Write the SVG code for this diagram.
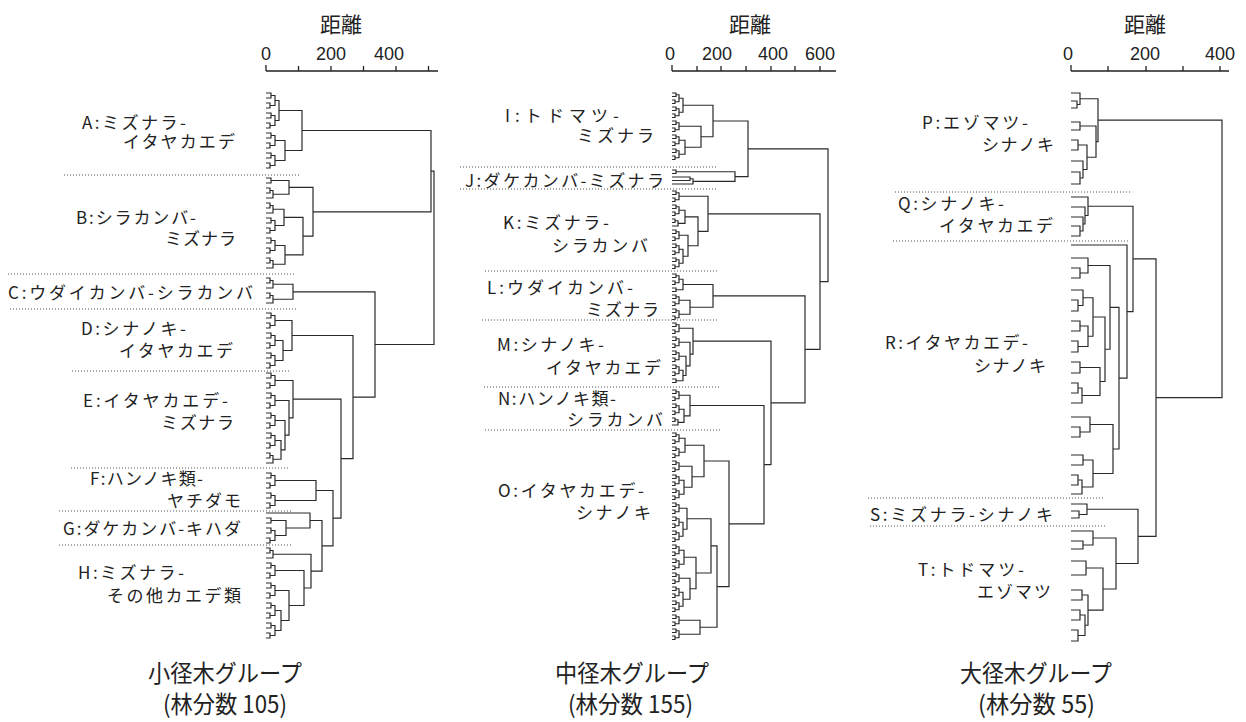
<svg xmlns="http://www.w3.org/2000/svg" width="1246" height="722" viewBox="0 0 1246 722">
<style>
.bg{fill:#fff}
.ln{fill:none;stroke:#2a2a2a;stroke-width:1.2}
.dot{fill:none;stroke:#555;stroke-width:1;stroke-dasharray:1 2}
.ax{fill:none;stroke:#222;stroke-width:1.3}
.lbl{font-family:"Noto Sans CJK JP","Noto Sans CJK SC",sans-serif;font-size:17px;fill:#222}
.end{text-anchor:end}
.num{font-family:"Liberation Sans",sans-serif;font-size:18px;fill:#222;text-anchor:middle}
.hd{font-family:"Noto Sans CJK JP","Noto Sans CJK SC",sans-serif;font-size:21px;fill:#222;text-anchor:middle}
.ttl{font-family:"Noto Sans CJK JP","Noto Sans CJK SC",sans-serif;font-size:24px;fill:#222}
</style>
<defs>
<path id="a4" d="M0,0H5V5H0M0,10H4V15H0M5,2.5H9V12.5H4"/>
<path id="a3" d="M0,0H4V5H0M4,2.5H7V10H0"/>
<path id="a2" d="M0,0H5V5H0"/>
<path id="b4" d="M0,0H4V3.5H0M0,7H3V10.5H0M4,1.75H7V8.75H3"/>
<path id="b3" d="M0,0H3V3.5H0M3,1.75H6V7H0"/>
<path id="b2" d="M0,0H4V3.5H0"/>
</defs>
<rect class="bg" x="0" y="0" width="1246" height="722"/>

<g id="axes">
<text class="hd" x="341" y="32">距離</text>
<text class="num" x="266" y="60">0</text><text class="num" x="331" y="60">200</text><text class="num" x="389" y="60">400</text>
<path class="ax" d="M266,71H438M266,65V71M298.5,66V71M331,66V71M363.5,66V71M396,66V71M428.5,66V71"/>
<text class="hd" x="750" y="32">距離</text>
<text class="num" x="670" y="60">0</text><text class="num" x="717" y="60">200</text><text class="num" x="773" y="60">400</text><text class="num" x="820" y="60">600</text>
<path class="ax" d="M672,71H836M672,65V71M697,66V71M721,66V71M746,66V71M771,66V71M795,66V71M820,66V71"/>
<text class="hd" x="1145" y="32">距離</text>
<text class="num" x="1068" y="60">0</text><text class="num" x="1145" y="60">200</text><text class="num" x="1220" y="60">400</text>
<path class="ax" d="M1071,71H1229M1071,65V71M1108,66V71M1146,66V71M1183,66V71M1220,66V71"/>
</g>

<g id="connectors" class="ln">
<use href="#a4" x="266" y="93"/><use href="#a4" x="266" y="113"/><use href="#a4" x="266" y="133"/><use href="#a4" x="266" y="153"/>
<use href="#a2" x="266" y="178"/><use href="#a3" x="266" y="188"/><use href="#a3" x="266" y="203"/><use href="#a4" x="266" y="218"/><use href="#a4" x="266" y="238"/><use href="#a3" x="266" y="258"/>
<use href="#a3" x="266" y="278"/><use href="#a3" x="266" y="293"/>
<use href="#a4" x="266" y="313"/><use href="#a4" x="266" y="333"/><use href="#a4" x="266" y="353"/>
<use href="#a4" x="266" y="373"/><use href="#a4" x="266" y="393"/><use href="#a4" x="266" y="413"/><use href="#a4" x="266" y="433"/><use href="#a3" x="266" y="453"/>
<use href="#a4" x="266" y="473"/><use href="#a4" x="266" y="493"/>
<use href="#a2" x="266" y="518"/><use href="#a4" x="266" y="528"/>
<use href="#a3" x="266" y="548"/><use href="#a4" x="266" y="563"/><use href="#a4" x="266" y="583"/><use href="#a4" x="266" y="603"/><use href="#a4" x="266" y="623"/>
<path d="M275,100.5H279V120.5H275M275,140.5H285V160.5H275M279,110.5H302V150.5H285
M271,180.5H289V194.25H273M273,209.25H284V225.5H275M275,245.5H285V264.25H273M284,217.4H303V254.9H285M289,187.4H313V236.1H303
M302,130.5H431V211.8H313
M273,284.25H293V299.25H273
M275,340.5H283V360.5H275M275,320.5H292V350.5H283
M275,440.5H281V459.25H273M275,420.5H285V449.9H281M275,400.5H289V435.2H285M275,380.5H293V417.85H289
M275,480.5H316V500.5H275
M271,520.5H286V535.5H275M266,513H310V528H286
M275,610.5H281V630.5H275M275,590.5H289V620.5H281M275,570.5H304V605.5H289M273,554.25H311V588H304
M310,520.5H322V571.1H311M316,490.5H333V545.8H322M293,399.2H341V518.2H333M292,335.5H353V458.7H341M293,291.8H375V397.1H353
M431,171.2H434V344.5H375"/>

<use href="#b4" x="672" y="93"/><use href="#b4" x="672" y="107"/><use href="#b4" x="672" y="121"/><use href="#b4" x="672" y="135"/><use href="#b4" x="672" y="149"/>
<use href="#b2" x="672" y="170"/>
<use href="#b4" x="672" y="191"/><use href="#b4" x="672" y="205"/><use href="#b3" x="672" y="219"/><use href="#b4" x="672" y="230"/><use href="#b4" x="672" y="244"/><use href="#b4" x="672" y="258"/>
<use href="#b4" x="672" y="274"/><use href="#b2" x="672" y="288"/><use href="#b4" x="672" y="295"/><use href="#b4" x="672" y="309"/>
<use href="#b4" x="672" y="323"/><use href="#b4" x="672" y="337"/><use href="#b4" x="672" y="351"/><use href="#b4" x="672" y="365"/><use href="#b2" x="672" y="379"/>
<use href="#b4" x="672" y="390"/><use href="#b4" x="672" y="404"/><use href="#b3" x="672" y="418"/>
<use href="#b4" x="672" y="433"/><use href="#b4" x="672" y="447"/><use href="#b4" x="672" y="461"/><use href="#b4" x="672" y="475"/><use href="#b4" x="672" y="489"/>
<use href="#b4" x="672" y="503"/><use href="#b4" x="672" y="517"/><use href="#b4" x="672" y="531"/><use href="#b4" x="672" y="545"/><use href="#b4" x="672" y="559"/>
<use href="#b4" x="672" y="573"/><use href="#b4" x="672" y="587"/><use href="#b4" x="672" y="601"/><use href="#b4" x="672" y="615"/><use href="#b4" x="672" y="629"/>
<path d="M679,98.25H683V112.25H679M679,140.25H685V154.25H679M679,126.25H701V147.25H685M683,105.25H713V136.75H701
M672,177H690V180.5H672M690,178.75H693V184H672M676,171.75H735V181.4H693
M713,121H748V176.6H735
M679,210.25H685V223.4H678M679,249.25H683V263.25H679M679,235.25H688V256.25H683M685,216.8H698V245.75H688M679,196.25H708V231.3H698
M679,279.25H683V289.75H676M679,300.25H690V314.25H679M683,284.5H713V307.25H690
M679,370.25H683V380.75H676M679,356.25H686V375.5H683M679,342.25H690V365.9H686M679,328.25H693V354.1H690
M679,409.25H684V422.4H678M679,395.25H690V415.8H684
M679,438.25H685V452.25H679M679,480.25H684V494.25H679M679,466.25H692V487.25H684M685,445.25H704V476.75H692
M679,522.25H683V536.25H679M679,508.25H687V529.25H683
M679,550.25H684V564.25H679M679,592.25H683V606.25H679M679,578.25H690V599.25H683M684,557.25H696V588.75H690M687,518.75H711V573H696
M679,620.25H700V634.25H679M711,545.9H717V627.25H700M704,461H729V586.6H717
M690,405.5H764V523.8H729M693,341.2H771V464.65H764M713,295.9H805V402.9H771M708,213.8H820V349.4H805M748,148.8H828V281.6H820"/>

<path d="M1071,101H1077V108H1071M1071,93H1080V104.5H1077M1071,122H1080V130H1071M1071,140H1078V150H1071M1071,172H1080V184H1071M1071,161H1083V178H1080
M1078,145H1087V169.5H1083M1080,126H1096V157.25H1087M1080,98.75H1098V141.6H1096
M1071,226H1080V236H1071M1071,217H1083V231H1080M1071,207H1085V224H1083M1071,197H1088V215.5H1085
M1071,268H1080V278H1071M1071,258H1088V273H1080
M1071,300H1078V311H1071M1071,290H1083V305.5H1078M1071,321H1080V331H1071M1071,341H1078V352H1071M1080,326H1088V346.5H1078M1083,297.75H1093V336.25H1088
M1071,362H1080V373H1071M1071,383H1078V393H1071M1078,388H1082V403H1071M1080,367.5H1100V395.5H1082M1093,317H1105V381.5H1100M1088,265.5H1110V349.25H1105
M1071,427H1080V437H1071M1071,417H1090V432H1080M1071,455H1083V465H1071M1071,475H1078V485H1071M1078,480H1082V494H1071M1083,460H1093V487H1082M1090,424.5H1113V473.5H1093
M1110,307.4H1119V449H1113M1071,245H1127V378.2H1119M1088,206.25H1133V311.6H1127
M1071,511H1079V518H1071M1071,504H1087V514.5H1079
M1071,541H1083V549H1071M1071,531H1093V545H1083M1071,561H1086V575H1071M1071,590H1082V600H1071M1071,610H1080V620H1071M1071,630H1078V641H1071
M1080,615H1085V635.5H1078M1082,595H1088V625.25H1085M1086,568H1103V610.1H1088M1093,538H1116V589H1103
M1087,509.25H1138V563.5H1116M1133,258.9H1156V536.4H1138M1098,120.2H1222V397.6H1156"/>
</g>

<g id="separators" class="dot">
<path d="M64,175H300M8,274H296M10,309H297M72,371H291M71,468H290M59,511H293M59,545H293"/>
<path d="M460,167H717M460,189H717M485,271H719M482,320H717M484,387H719M485,430H720"/>
<path d="M895,192H1130M893,241H1128M868,498H1103M870,526H1105"/>
</g>

<g id="node-A"><text class="lbl"><tspan x="82" y="128.5" textLength="104">A:ミズナラ-</tspan><tspan class="end" x="235" y="147.5" textLength="112">イタヤカエデ</tspan></text></g>
<g id="node-B"><text class="lbl"><tspan x="76" y="223.5" textLength="120">B:シラカンバ-</tspan><tspan class="end" x="236" y="244.5" textLength="71">ミズナラ</tspan></text></g>
<g id="node-C"><text class="lbl" x="8" y="298.5" textLength="245">C:ウダイカンバ-シラカンバ</text></g>
<g id="node-D"><text class="lbl"><tspan x="81" y="335" textLength="105">D:シナノキ-</tspan><tspan class="end" x="233" y="356.5" textLength="114">イタヤカエデ</tspan></text></g>
<g id="node-E"><text class="lbl"><tspan x="83" y="406.5" textLength="145">E:イタヤカエデ-</tspan><tspan class="end" x="234" y="428.5" textLength="73">ミズナラ</tspan></text></g>
<g id="node-F"><text class="lbl"><tspan x="90" y="484.5" textLength="113">F:ハンノキ類-</tspan><tspan class="end" x="241" y="506.5" textLength="74">ヤチダモ</tspan></text></g>
<g id="node-G"><text class="lbl" x="63" y="534.5" textLength="178">G:ダケカンバ-キハダ</text></g>
<g id="node-H"><text class="lbl"><tspan x="78" y="578.5" textLength="106">H:ミズナラ-</tspan><tspan class="end" x="241" y="601.5" textLength="134">その他カエデ類</tspan></text></g>

<g id="node-I"><text class="lbl"><tspan x="505" y="121.5" textLength="114">I:トドマツ-</tspan><tspan class="end" x="654" y="141.5" textLength="77">ミズナラ</tspan></text></g>
<g id="node-J"><text class="lbl" x="465" y="186.5" textLength="199">J:ダケカンバ-ミズナラ</text></g>
<g id="node-K"><text class="lbl"><tspan x="503" y="228.5" textLength="106">K:ミズナラ-</tspan><tspan class="end" x="648" y="251.5" textLength="96">シラカンバ</tspan></text></g>
<g id="node-L"><text class="lbl"><tspan x="487" y="293.5" textLength="146">L:ウダイカンバ-</tspan><tspan class="end" x="659" y="315.5" textLength="73">ミズナラ</tspan></text></g>
<g id="node-M"><text class="lbl"><tspan x="497" y="350.5" textLength="107">M:シナノキ-</tspan><tspan class="end" x="661" y="373.5" textLength="115">イタヤカエデ</tspan></text></g>
<g id="node-N"><text class="lbl"><tspan x="498" y="404.5" textLength="118">N:ハンノキ類-</tspan><tspan class="end" x="663" y="425.5" textLength="96">シラカンバ</tspan></text></g>
<g id="node-O"><text class="lbl"><tspan x="498" y="496.5" textLength="146">O:イタヤカエデ-</tspan><tspan class="end" x="651" y="518.5" textLength="75">シナノキ</tspan></text></g>

<g id="node-P"><text class="lbl"><tspan x="922" y="128.5" textLength="106">P:エゾマツ-</tspan><tspan class="end" x="1054" y="150.5" textLength="72">シナノキ</tspan></text></g>
<g id="node-Q"><text class="lbl"><tspan x="898" y="209.5" textLength="106">Q:シナノキ-</tspan><tspan class="end" x="1053" y="231.5" textLength="114">イタヤカエデ</tspan></text></g>
<g id="node-R"><text class="lbl"><tspan x="885" y="348.5" textLength="143">R:イタヤカエデ-</tspan><tspan class="end" x="1046" y="371.5" textLength="72">シナノキ</tspan></text></g>
<g id="node-S"><text class="lbl" x="870" y="520.5" textLength="183">S:ミズナラ-シナノキ</text></g>
<g id="node-T"><text class="lbl"><tspan x="918" y="575.5" textLength="106">T:トドマツ-</tspan><tspan class="end" x="1051" y="597.5" textLength="74">エゾマツ</tspan></text></g>

<g id="title-small"><text class="ttl"><tspan x="148" y="682" textLength="154" lengthAdjust="spacingAndGlyphs">小径木グループ</tspan><tspan x="163" y="713" textLength="124" lengthAdjust="spacingAndGlyphs">(林分数 105)</tspan></text></g>
<g id="title-medium"><text class="ttl"><tspan x="555" y="682" textLength="154" lengthAdjust="spacingAndGlyphs">中径木グループ</tspan><tspan x="568" y="713" textLength="125" lengthAdjust="spacingAndGlyphs">(林分数 155)</tspan></text></g>
<g id="title-large"><text class="ttl"><tspan x="960" y="682" textLength="152" lengthAdjust="spacingAndGlyphs">大径木グループ</tspan><tspan x="978" y="713" textLength="117" lengthAdjust="spacingAndGlyphs">(林分数 55)</tspan></text></g>
</svg>
